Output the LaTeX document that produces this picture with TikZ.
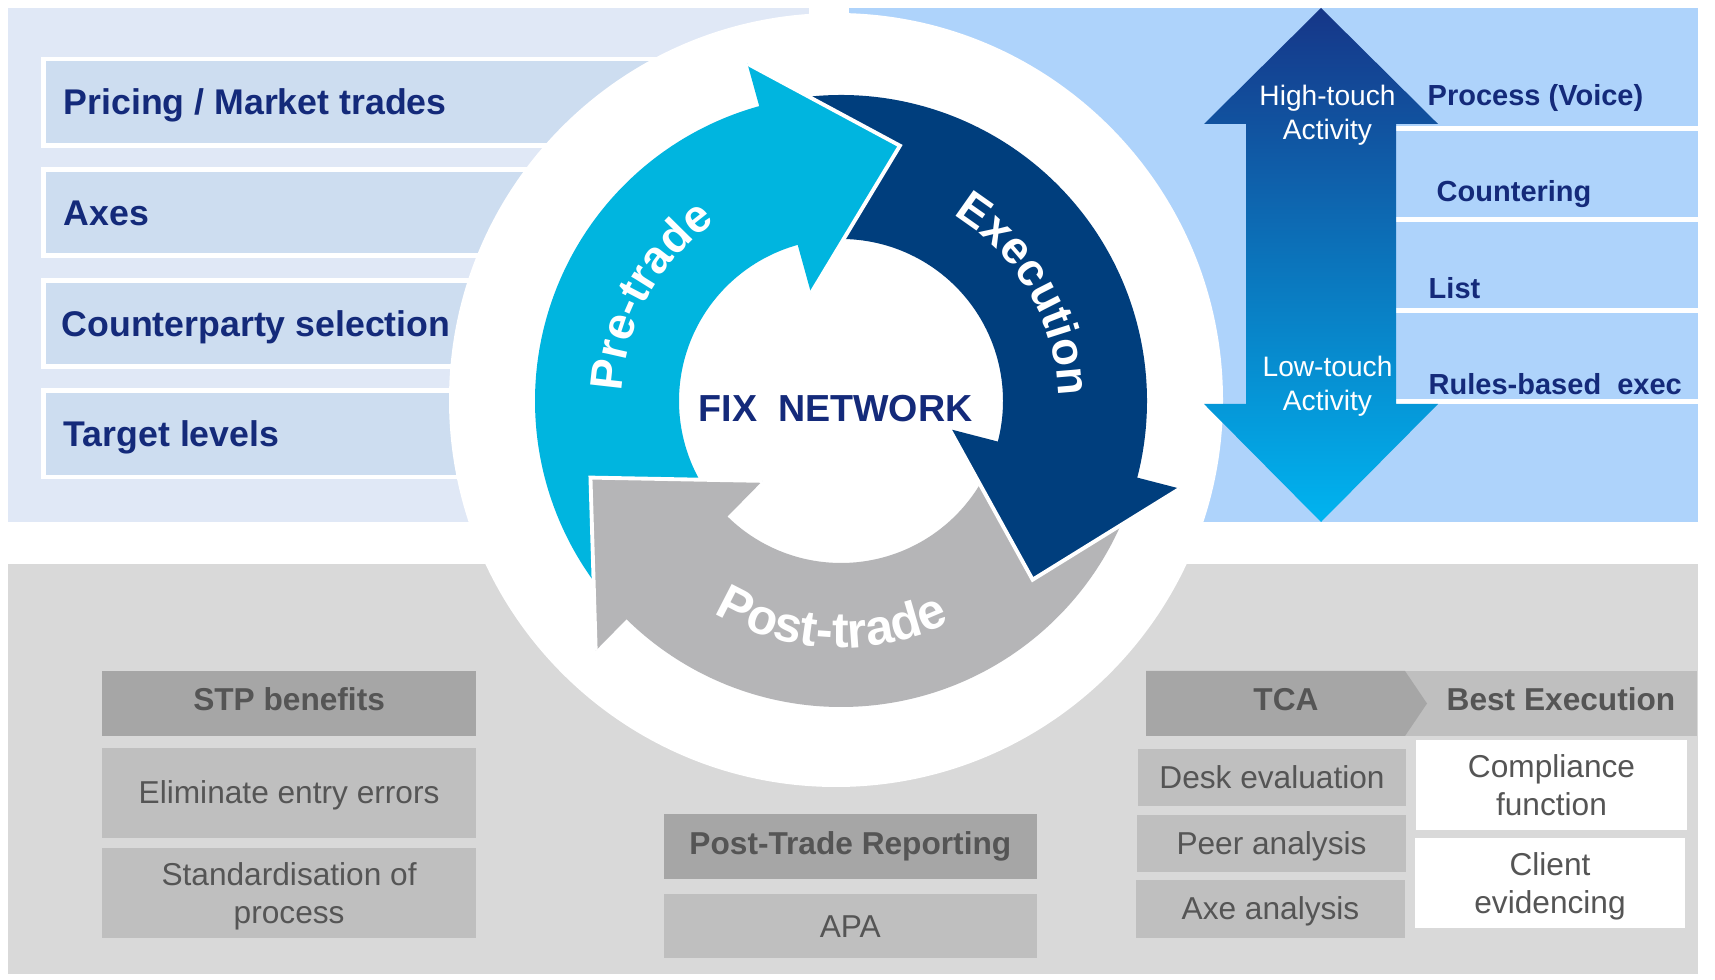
\documentclass[tikz,border=0pt]{standalone}
\usepackage{fontspec}
\setmainfont{Liberation Sans}
\usetikzlibrary{decorations.text}

\definecolor{paleblue}{RGB}{224,232,246}
\definecolor{boxblue}{RGB}{205,221,240}
\definecolor{skyblue}{RGB}{174,211,251}
\definecolor{navytext}{RGB}{20,42,122}
\definecolor{precyan}{RGB}{0,181,223}
\definecolor{execblue}{RGB}{0,62,125}
\definecolor{postgrey}{RGB}{181,181,183}
\definecolor{panelgrey}{RGB}{217,217,217}
\definecolor{hdrgrey}{RGB}{166,166,166}
\definecolor{itemgrey}{RGB}{191,191,191}
\definecolor{textgrey}{RGB}{85,85,85}
\definecolor{touchtop}{RGB}{22,54,136}
\definecolor{touchmid}{RGB}{11,112,182}
\definecolor{touchbot}{RGB}{0,180,240}

\newcommand{\cyclefont}{\fontsize{13}{15}\selectfont\bfseries}

\begin{document}
\begin{tikzpicture}[
    x=0.01cm, y=-0.01cm,
    leftbox/.style={draw=white, line width=1.4pt, fill=boxblue},
    lefttext/.style={anchor=base west, inner sep=0pt, text=navytext,
      font=\fontsize{10.15}{12}\selectfont\bfseries},
    righttext/.style={anchor=base west, inner sep=0pt, text=navytext,
      font=\fontsize{8.25}{10}\selectfont\bfseries},
    touchtext/.style={align=center, inner sep=0pt, text=white,
      font=\fontsize{8}{9.7}\selectfont},
    headbox/.style={fill=hdrgrey, inner sep=0pt, text=textgrey,
      text height=0.63em, text depth=0.21em,
      font=\fontsize{9}{10.8}\selectfont\bfseries},
    itembox/.style={fill=itemgrey, inner sep=0pt, align=center, text=textgrey,
      font=\fontsize{9}{10.8}\selectfont},
    itemline/.style={itembox, text height=0.83em, text depth=0.21em},
    evidbox/.style={itembox, fill=white},
    cyclelabel/.style={decorate,
      decoration={text along path, text align=center, text color=white}}
  ]
  % background
  \fill[white] (0,0) rectangle (1715,980);
  \useasboundingbox (0,0) rectangle (1715,980);

  % panels
  \fill[paleblue] (8,8) rectangle (809,522);
  \fill[skyblue] (849,8) rectangle (1698,522);
  \fill[panelgrey] (8,564) rectangle (1698,974);

  % pre-trade boxes
  \foreach \k in {0,...,3} {
    \draw[leftbox] (43.8,{59+110.6*\k}) rectangle (790,{145.2+110.6*\k});
  }

  % separators on the right
  \foreach \y in {128.5,219.7,310.4,401.5} {
    \draw[white, line width=1.4pt] (1396,\y) -- (1698,\y);
  }

  % white disc
  \fill[white] (836,400) circle [radius=387];

  % touch arrow
  \shade[top color=touchtop, middle color=touchmid, bottom color=touchbot]
    (1321,8) -- (1438,124) -- (1396,124) -- (1396,404) -- (1438,404) -- (1321,522)
    -- (1204,404) -- (1246,404) -- (1246,124) -- (1204,124) -- cycle;

  % left labels
  \node[lefttext] (pricing) at (63,115) {Pricing / Market trades};
  \node[lefttext] (axes) at (63,225.6) {Axes};
  \node[lefttext] (cparty) at (61,336.2) {Counterparty selection};
  \node[lefttext] (target) at (63,446.8) {Target levels};

  % right labels
  \node[righttext] (voice) at (1427,105.4) {Process (Voice)};
  \node[righttext] (counter) at (1436,201.4) {Countering};
  \node[righttext] (list) at (1428,298.4) {List};
  \node[righttext] (rules) at (1428,394.4) {Rules-based\ \ exec};

  \node[touchtext] (high) at (1327.5,115) {High-touch\\Activity};
  \node[touchtext] (low) at (1327.5,386) {Low-touch\\Activity};

  % cycle
  \begin{scope}[shift={(841,401)}]
    \foreach \a/\col in {-105.5/precyan, 14.5/execblue, 134.5/postgrey} {
      \fill[\col] ({\a-111.5}:306) arc [start angle=\a-111.5, end angle=\a+0.5, radius=306]
        -- ({\a+0.5}:162) arc [start angle=\a+0.5, end angle=\a-111.5, radius=162] -- cycle;
    }
    \foreach \a/\col in {-105.5/precyan, 14.5/execblue, 134.5/postgrey} {
      \fill[\col] (\a:350) -- ({\a+28.5}:262) -- (\a:112) -- cycle;
      \draw[white, line width=1.1pt] (\a:350) -- ({\a+28.5}:262) -- (\a:112);
    }
    \path[cyclelabel, decoration={text={|\cyclefont|Pre-trade}}]
      (-191.3:219) arc [start angle=-191.3, end angle=-111.3, radius=219];
    \path[cyclelabel, decoration={text={|\cyclefont|Execution}}]
      (-70:217) arc [start angle=-70, end angle=10, radius=217];
    \path[cyclelabel, decoration={text={|\cyclefont\fontsize{14.2}{16}\selectfont|Post-trade}}]
      (132.4:247) arc [start angle=132.4, end angle=52.4, radius=247];
  \end{scope}
  \node[text=navytext, font=\fontsize{10.7}{12}\selectfont\bfseries] (fix)
    at (835.5,408.5) {FIX\ \ NETWORK};

  % stp benefits
  \node[headbox, minimum width=3.73cm, minimum height=0.647cm] (stp) at (289.1,703.4) {STP benefits};
  \node[itemline, minimum width=3.73cm, minimum height=0.894cm] (elim) at (289.1,793) {Eliminate entry errors};
  \node[itembox, minimum width=3.73cm, minimum height=0.894cm] (stdproc) at (289.1,893) {Standardisation of\\\smash{process}};

  % reporting
  \node[headbox, minimum width=3.733cm, minimum height=0.647cm] (report) at (850.35,846.65) {Post-Trade Reporting};
  \node[itemline, minimum width=3.733cm, minimum height=0.643cm] (apa) at (850.35,926.15) {APA};

  % tca and best execution
  \fill[itemgrey] (1405,671) rectangle (1697,736);
  \fill[hdrgrey] (1146,671) -- (1405,671) -- (1427,703.5) -- (1405,736) -- (1146,736) -- cycle;
  \node[headbox, fill=none] (tca) at (1286,703.5) {TCA};
  \node[headbox, fill=none] (bestex) at (1561,703.5) {Best Execution};

  \node[itemline, minimum width=2.68cm, minimum height=0.564cm] (desk) at (1272,777.5) {Desk evaluation};
  \node[itemline, minimum width=2.69cm, minimum height=0.57cm] (peer) at (1271.5,843.8) {Peer analysis};
  \node[itemline, minimum width=2.69cm, minimum height=0.577cm] (axe) at (1270.5,908.85) {Axe analysis};
  \node[evidbox, minimum width=2.71cm, minimum height=0.9cm] (compl) at (1551.5,785) {Compliance\\function};
  \node[evidbox, minimum width=2.70cm, minimum height=0.9cm] (client) at (1550,882.7) {Client\\\smash{evidencing}};
\end{tikzpicture}
\end{document}
